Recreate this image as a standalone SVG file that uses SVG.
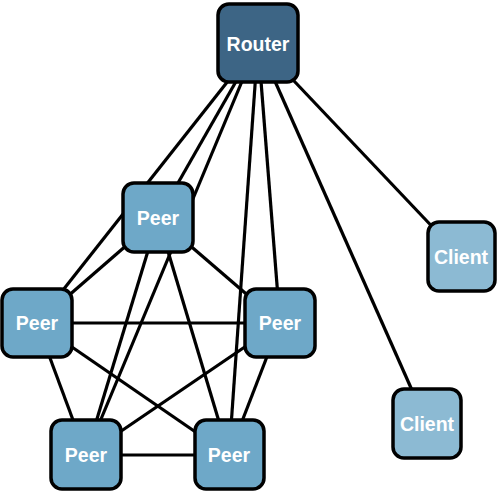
<svg xmlns="http://www.w3.org/2000/svg" width="500" height="492" viewBox="0 0 500 492">
<style>
.edge{stroke:#000;stroke-width:3.2;fill:none}
.box{stroke:#000;stroke-width:3.5}
.router{fill:#3d6585}
.peer{fill:#6ea8c8}
.client{fill:#8cbad3}
.lbl{font-family:"Liberation Sans",Arial,sans-serif;font-weight:bold;font-size:19.5px;fill:#fff;text-anchor:middle}
</style>
<rect width="500" height="492" fill="#fff"/>
<g id="connectors">
<line class="edge" x1="258" y1="43" x2="158" y2="218"/>
<line class="edge" x1="258" y1="43" x2="37" y2="323"/>
<line class="edge" x1="258" y1="43" x2="280" y2="323"/>
<line class="edge" x1="258" y1="43" x2="86" y2="455"/>
<line class="edge" x1="258" y1="43" x2="229" y2="455"/>
<line class="edge" x1="258" y1="43" x2="461" y2="257"/>
<line class="edge" x1="258" y1="43" x2="427" y2="424"/>
<line class="edge" x1="158" y1="218" x2="37" y2="323"/>
<line class="edge" x1="158" y1="218" x2="280" y2="323"/>
<line class="edge" x1="158" y1="218" x2="86" y2="455"/>
<line class="edge" x1="158" y1="218" x2="229" y2="455"/>
<line class="edge" x1="37" y1="323" x2="280" y2="323"/>
<line class="edge" x1="37" y1="323" x2="86" y2="455"/>
<line class="edge" x1="37" y1="323" x2="229" y2="455"/>
<line class="edge" x1="280" y1="323" x2="86" y2="455"/>
<line class="edge" x1="280" y1="323" x2="229" y2="455"/>
<line class="edge" x1="86" y1="455" x2="229" y2="455"/>
</g>
<g id="router">
<rect class="box router" x="218" y="4" width="80" height="78" rx="11"/>
<text class="lbl" x="258" y="51">Router</text>
</g>
<g id="peer-top">
<rect class="box peer" x="123" y="183" width="70" height="69" rx="11"/>
<text class="lbl" x="158" y="225">Peer</text>
</g>
<g id="peer-left">
<rect class="box peer" x="2" y="289" width="70" height="68" rx="11"/>
<text class="lbl" x="37" y="330">Peer</text>
</g>
<g id="peer-right">
<rect class="box peer" x="245" y="289" width="70" height="68" rx="11"/>
<text class="lbl" x="280" y="330">Peer</text>
</g>
<g id="peer-bottom-left">
<rect class="box peer" x="51" y="420" width="70" height="69" rx="11"/>
<text class="lbl" x="86" y="462">Peer</text>
</g>
<g id="peer-bottom-right">
<rect class="box peer" x="195" y="420" width="69" height="69" rx="11"/>
<text class="lbl" x="229" y="462">Peer</text>
</g>
<g id="client-1">
<rect class="box client" x="428" y="222" width="67" height="69" rx="11"/>
<text class="lbl" x="461" y="264">Client</text>
</g>
<g id="client-2">
<rect class="box client" x="393" y="389" width="68" height="69" rx="11"/>
<text class="lbl" x="427" y="431">Client</text>
</g>
</svg>
